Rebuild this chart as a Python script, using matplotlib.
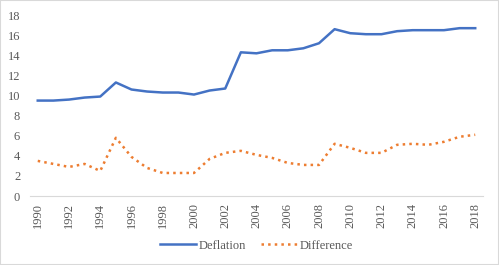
import numpy as np
import matplotlib
matplotlib.use('Agg')
import matplotlib.pyplot as plt

years = list(range(1990, 2019))
deflation = [9.5, 9.5, 9.6, 9.8, 9.9, 11.3, 10.6, 10.4, 10.3, 10.3,
             10.1, 10.5, 10.7, 14.3, 14.2, 14.5, 14.5, 14.7, 15.2, 16.6,
             16.2, 16.1, 16.1, 16.4, 16.5, 16.5, 16.5, 16.7, 16.7]
difference = [3.5, 3.2, 2.9, 3.2, 2.5, 5.8, 3.9, 2.8, 2.3, 2.3,
              2.3, 3.7, 4.3, 4.5, 4.1, 3.8, 3.3, 3.1, 3.1, 5.2,
              4.8, 4.3, 4.3, 5.1, 5.2, 5.1, 5.4, 5.9, 6.1]
tick_years = list(range(1990, 2019, 2))

plt.rcParams['font.family'] = 'serif'
plt.rcParams['font.serif'] = ['Liberation Serif', 'DejaVu Serif']

fig = plt.figure(figsize=(4.99, 2.65), dpi=100)
ax = fig.add_axes([0.06, 0.26, 0.908, 0.683])

ax.plot(years, deflation, color='#4472C4', lw=1.8, label='Deflation')
ax.plot(years, difference, color='#ED7D31', lw=1.8, linestyle=':', label='Difference')

ax.set_xlim(1989.5, 2018.5)
ax.set_ylim(0, 18)
ax.set_yticks(range(0, 19, 2))
ax.set_xticks(tick_years)
ax.set_xticklabels([str(y) for y in tick_years], rotation=90)
ax.tick_params(axis='both', length=0, labelsize=9, colors='#595959')
ax.tick_params(axis='x', pad=5)
ax.tick_params(axis='y', pad=7)

for s in ['top', 'right', 'left']:
    ax.spines[s].set_visible(False)
ax.spines['bottom'].set_color('#D9D9D9')

ax.legend(loc='center', bbox_to_anchor=(0.5, -0.275), ncol=2, frameon=False,
          fontsize=9, handlelength=2.9, handletextpad=0.2, columnspacing=1.2,
          labelcolor='#595959')

fig.patches.append(plt.Rectangle((0, 0), 1, 1, transform=fig.transFigure,
                                 fill=False, edgecolor='#D9D9D9', lw=1.5))

fig.savefig('out.png', dpi=100)
